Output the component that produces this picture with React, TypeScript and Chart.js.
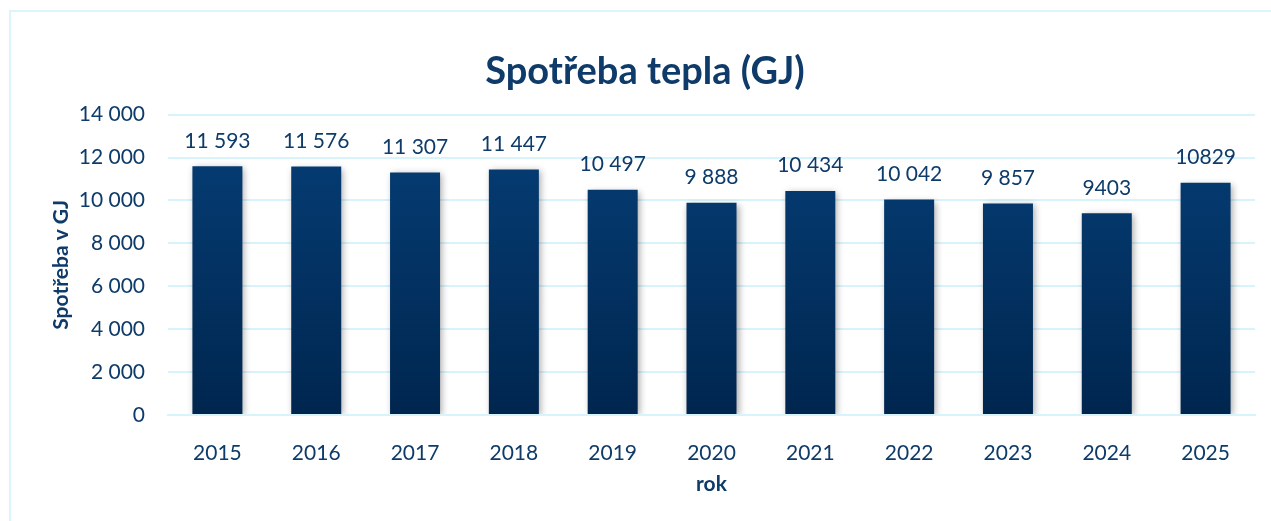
import React, { useEffect, useRef } from "react";
import { Chart, registerables } from "chart.js";

Chart.register(...registerables);

const years = ["2015", "2016", "2017", "2018", "2019", "2020", "2021", "2022", "2023", "2024", "2025"];
const consumption = [11593, 11576, 11307, 11447, 10497, 9888, 10434, 10042, 9857, 9403, 10829];
const valueLabels = ["11 593", "11 576", "11 307", "11 447", "10 497", "9 888", "10 434", "10 042", "9 857", "9403", "10829"];

const TEXT = "#0e3b69";
const GRID = "#d7f3fb";
const FONT = "Lato, 'Open Sans', sans-serif";

const shadowPlugin = {
  id: "barShadow",
  beforeDatasetDraw(chart: any) {
    const ctx = chart.ctx;
    ctx.save();
    ctx.shadowColor = "rgba(0,0,0,0.35)";
    ctx.shadowBlur = 7;
    ctx.shadowOffsetX = 2;
    ctx.shadowOffsetY = 2;
  },
  afterDatasetDraw(chart: any) {
    chart.ctx.restore();
  },
};

const labelPlugin = {
  id: "valueLabels",
  afterDatasetsDraw(chart: any) {
    const ctx = chart.ctx;
    const meta = chart.getDatasetMeta(0);
    ctx.save();
    ctx.font = `21px ${FONT}`;
    ctx.fillStyle = TEXT;
    ctx.textAlign = "center";
    ctx.textBaseline = "bottom";
    meta.data.forEach((bar: any, i: number) => {
      ctx.fillText(valueLabels[i], bar.x, bar.y - 15);
    });
    ctx.restore();
  },
};

export default function App() {
  const ref = useRef<HTMLCanvasElement | null>(null);

  useEffect(() => {
    if (!ref.current) return;
    const chart = new Chart(ref.current, {
      type: "bar",
      data: {
        labels: years,
        datasets: [
          {
            data: consumption,
            backgroundColor: (c: any) => {
              const area = c.chart.chartArea;
              if (!area) return "#03386e";
              const g = c.chart.ctx.createLinearGradient(0, area.top, 0, area.bottom);
              g.addColorStop(0, "#063f78");
              g.addColorStop(1, "#00264f");
              return g;
            },
            borderWidth: 0,
            categoryPercentage: 1,
            barPercentage: 0.506,
          },
        ],
      },
      options: {
        animation: false,
        responsive: false,
        maintainAspectRatio: false,
        layout: { padding: { left: 35, right: 16, top: 0, bottom: 24 } },
        plugins: {
          legend: { display: false },
          tooltip: { enabled: false },
          title: {
            display: true,
            text: "Spotřeba tepla (GJ)",
            color: TEXT,
            font: { family: FONT, size: 38, weight: "bold" },
            padding: { top: 49, bottom: 20 },
          },
        },
        scales: {
          x: {
            grid: { display: false },
            border: { display: true, color: GRID, width: 2, z: 1 } as any,
            ticks: { color: TEXT, font: { family: FONT, size: 21 }, padding: 18 },
            title: {
              display: true,
              text: "rok",
              color: TEXT,
              font: { family: FONT, size: 21, weight: "bold" },
              padding: 0,
            },
            afterFit: (s: any) => {
              s.height = 82;
            },
          },
          y: {
            min: 0,
            max: 14000,
            ticks: {
              stepSize: 2000,
              color: TEXT,
              font: { family: FONT, size: 21 },
              padding: 23,
              callback: (v: any) => Number(v).toLocaleString("cs-CZ").replace(/\s/g, " "),
            },
            grid: { color: GRID, lineWidth: 2, drawTicks: false },
            border: { display: false },
            title: {
              display: true,
              text: "Spotřeba v GJ",
              color: TEXT,
              font: { family: FONT, size: 21, weight: "bold" },
              padding: { top: 14, bottom: 0 },
            },
            afterFit: (s: any) => {
              s.width = 133;
            },
          },
        },
      },
      plugins: [shadowPlugin, labelPlugin],
    });
    return () => chart.destroy();
  }, []);

  return (
    <div style={{ position: "fixed", inset: 0, overflow: "hidden", background: "#fff" }}>
      <div
        style={{
          position: "absolute",
          left: 9,
          top: 10,
          width: 1400,
          height: 700,
          border: "2px solid #dcf5fc",
          boxSizing: "border-box",
        }}
      />
      <canvas ref={ref} width={1271} height={521} style={{ position: "absolute", left: 0, top: 0 }} />
    </div>
  );
}
